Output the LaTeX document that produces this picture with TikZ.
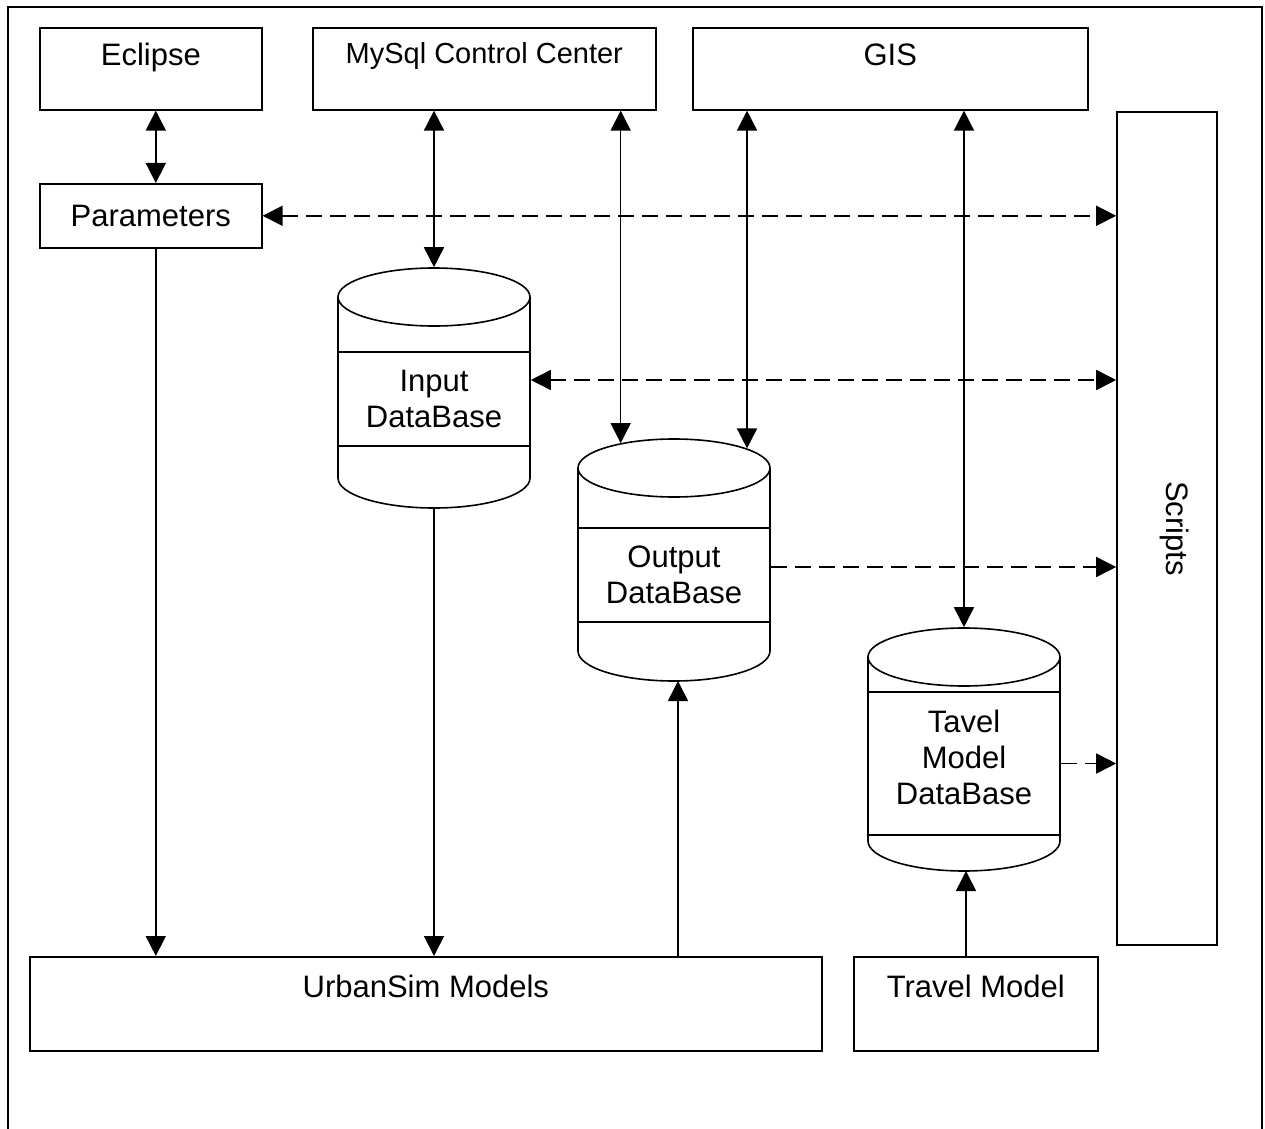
\documentclass[tikz,border=0pt]{standalone}
\usepackage{fontspec}
\setmainfont{Liberation Sans}
\usetikzlibrary{arrows.meta,shapes.geometric}

\begin{document}
\begin{tikzpicture}[x=0.5pt, y=-0.5pt, line width=0.8pt,
    >={Triangle[length=10pt,width=10pt]},
    box/.style={draw, inner sep=0pt, anchor=north west, font=\fontsize{15.5}{18}\selectfont},
    topbox/.style={box, text height=19pt, text depth=22pt},
    band/.style={draw, inner sep=0pt, minimum width=96pt, align=center, font=\fontsize{15.5}{18}\selectfont},
    dbtop/.style={draw, ellipse, inner sep=0pt, minimum width=96pt, minimum height=29pt},
    dashes/.style={dash pattern=on 8pt off 4pt}]
    \useasboundingbox (0,0) rectangle (1265,1129);
    \draw (8,1129) -- (8,7) -- (1262,7) -- (1262,1129);

    \node[topbox, minimum width=111pt](eclipse) at (39,27){Eclipse};
    \node[topbox, minimum width=171.5pt, font=\fontsize{14.5}{17}\selectfont, text height=18pt, text depth=23pt](mysql) at (312,27){MySql Control Center};
    \node[topbox, minimum width=197.5pt](gis) at (692,27){GIS};
    \node[box, minimum width=111pt, minimum height=32pt](param) at (39,183){Parameters};
    \node[draw, inner sep=0pt, rotate=-90, minimum width=416.5pt, minimum height=50pt, text depth=11pt, font=\fontsize{15.5}{18}\selectfont](scripts) at (1167,528.5){Scripts};
    \node[box, minimum width=396pt, text height=20.5pt, text depth=26.5pt](urbansim) at (29,956){UrbanSim Models};
    \node[box, minimum width=122pt, text height=20.5pt, text depth=26.5pt](travel) at (853,956){Travel Model};

    \draw (338,297) -- (338,478) arc[start angle=180, end angle=360, x radius=48pt, y radius=15pt] -- (530,297);
    \node[dbtop](intop) at (434,297){};
    \node[band, minimum height=47pt](inband) at (434,399){Input\\DataBase};
    \coordinate (inbot) at (434,508);

    \draw (578,468) -- (578,651) arc[start angle=180, end angle=360, x radius=48pt, y radius=15pt] -- (770,468);
    \node[dbtop](outtop) at (674,468){};
    \node[band, minimum height=47pt](outband) at (674,575){Output\\DataBase};
    \coordinate (outbot) at (678,681);

    \draw (868,657) -- (868,841) arc[start angle=180, end angle=360, x radius=48pt, y radius=15pt] -- (1060,657);
    \node[dbtop](tvtop) at (964,657){};
    \node[band, minimum height=71.5pt, text depth=6pt](tvband) at (964,763.5){Tavel\\Model\\DataBase};
    \coordinate (tvbot) at (966,871);

    \draw[<->] ([xshift=2.5pt]eclipse.south) -- ([xshift=2.5pt]param.north);
    \draw[->] ([xshift=2.5pt]param.south) -- ([xshift=2.5pt]param.south |- urbansim.north);
    \draw[<->] (intop.north |- mysql.south) -- (intop.north);
    \draw[<->] (outtop.155.5 |- mysql.south) -- (outtop.155.5);
    \draw[<->] (outtop.15.8 |- gis.south) -- (outtop.15.8);
    \draw[<->] (tvtop.north |- gis.south) -- (tvtop.north);
    \draw[->] (inbot) -- (inbot |- urbansim.north);
    \draw[->] (outbot |- urbansim.north) -- (outbot);
    \draw[->] (tvbot |- travel.north) -- (tvbot);

    \draw[<->, dashes] (param.east) -- (param.east -| scripts.south);
    \draw[<->, dashes] ([yshift=9.5pt]inband.east) -- ([yshift=9.5pt]inband.east -| scripts.south);
    \draw[->, dashes] ([yshift=4pt]outband.east) -- ([yshift=4pt]outband.east -| scripts.south);
    \draw[->, dashes] (tvband.east) -- (tvband.east -| scripts.south);
  \end{tikzpicture}
\end{document}
